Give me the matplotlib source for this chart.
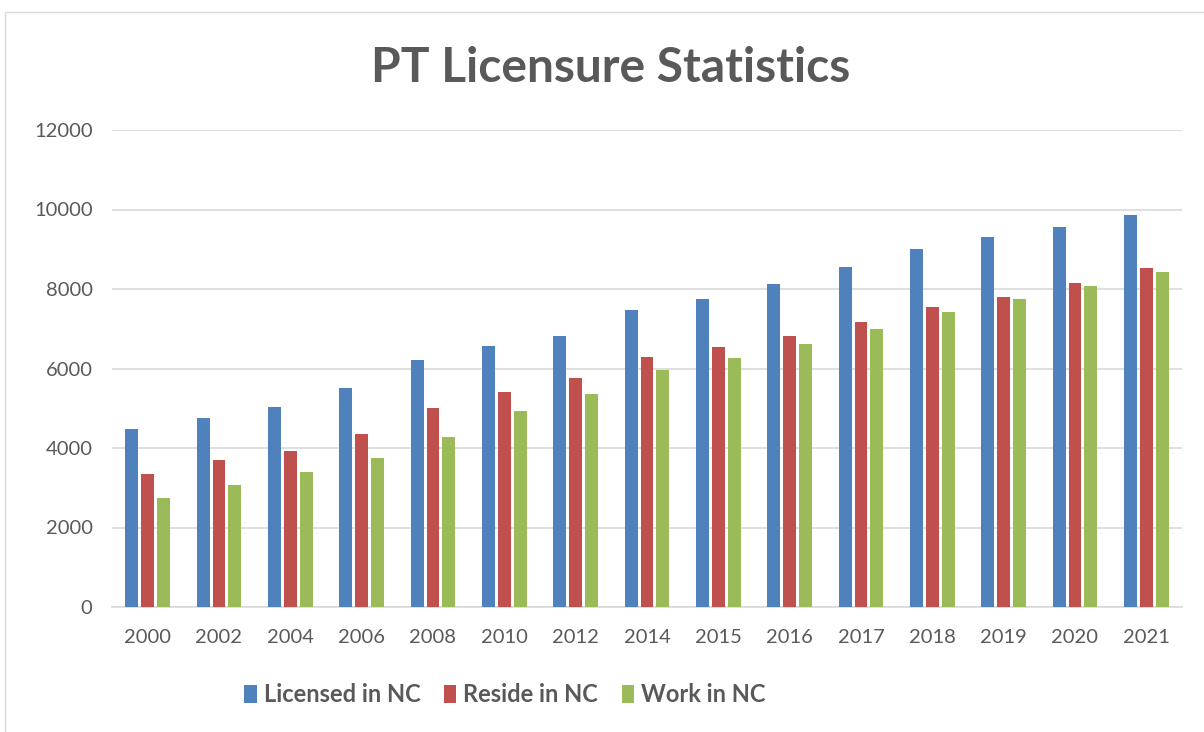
import matplotlib.pyplot as plt
import numpy as np
from matplotlib.patches import Rectangle

years = ['2000', '2002', '2004', '2006', '2008', '2010', '2012', '2014',
         '2015', '2016', '2017', '2018', '2019', '2020', '2021']
licensed = [4470, 4760, 5040, 5520, 6210, 6570, 6810, 7460, 7750, 8120, 8550, 9000, 9300, 9570, 9860]
reside = [3340, 3690, 3930, 4350, 5010, 5410, 5770, 6280, 6540, 6810, 7180, 7540, 7810, 8150, 8540]
work = [2730, 3070, 3390, 3750, 4270, 4940, 5360, 5970, 6260, 6610, 7000, 7410, 7740, 8070, 8420]

series = ['Licensed in NC', 'Reside in NC', 'Work in NC']
colors = ['#4F81BD', '#C0504D', '#9BBB59']
gray = '#595959'

plt.rcParams['font.family'] = ['Lato', 'DejaVu Sans']

fig = plt.figure(figsize=(12.04, 7.32), dpi=100)
ax = fig.add_axes([112 / 1204, 1 - 607 / 732, 1070 / 1204, 477 / 732])

# outer chart border (partly cut off, like a screenshot)
fig.patches.append(Rectangle((5 / 1204, -0.1), 1.2, 1 - 12 / 732 + 0.1,
                             transform=fig.transFigure, fill=False,
                             edgecolor='#D9D9D9', lw=1))

x = np.arange(len(years))
step = 0.222
w = 0.18
for i, (vals, c, lab) in enumerate(zip([licensed, reside, work], colors, series)):
    ax.bar(x + (i - 1) * step, vals, width=w, color=c, label=lab, zorder=3)

ax.set_xlim(-0.5, len(years) - 0.5)
ax.set_ylim(0, 12000)
ax.set_yticks(range(0, 12001, 2000))
ax.set_xticks(x)
ax.set_xticklabels(years)
ax.yaxis.grid(True, color='#D9D9D9', lw=1.2, zorder=0)
for s in ['top', 'right', 'left']:
    ax.spines[s].set_visible(False)
ax.spines['bottom'].set_color('#D9D9D9')
ax.spines['bottom'].set_linewidth(1.2)
ax.tick_params(axis='both', length=0, labelsize=14.5, labelcolor=gray)
ax.tick_params(axis='y', pad=14)
ax.tick_params(axis='x', pad=16)

fig.text(611 / 1204, 1 - 68 / 732, 'PT Licensure Statistics', ha='center', va='center',
         fontsize=34.5, fontweight='bold', color=gray)

leg = fig.legend(loc='center', bbox_to_anchor=(505 / 1204, 1 - 695 / 732), ncol=3,
                 frameon=False, prop={'size': 17, 'weight': 'bold'},
                 handlelength=0.52, handleheight=0.78, handletextpad=0.3,
                 columnspacing=1.0, borderpad=0)
for t in leg.get_texts():
    t.set_color(gray)

fig.savefig('out.png', dpi=100)
